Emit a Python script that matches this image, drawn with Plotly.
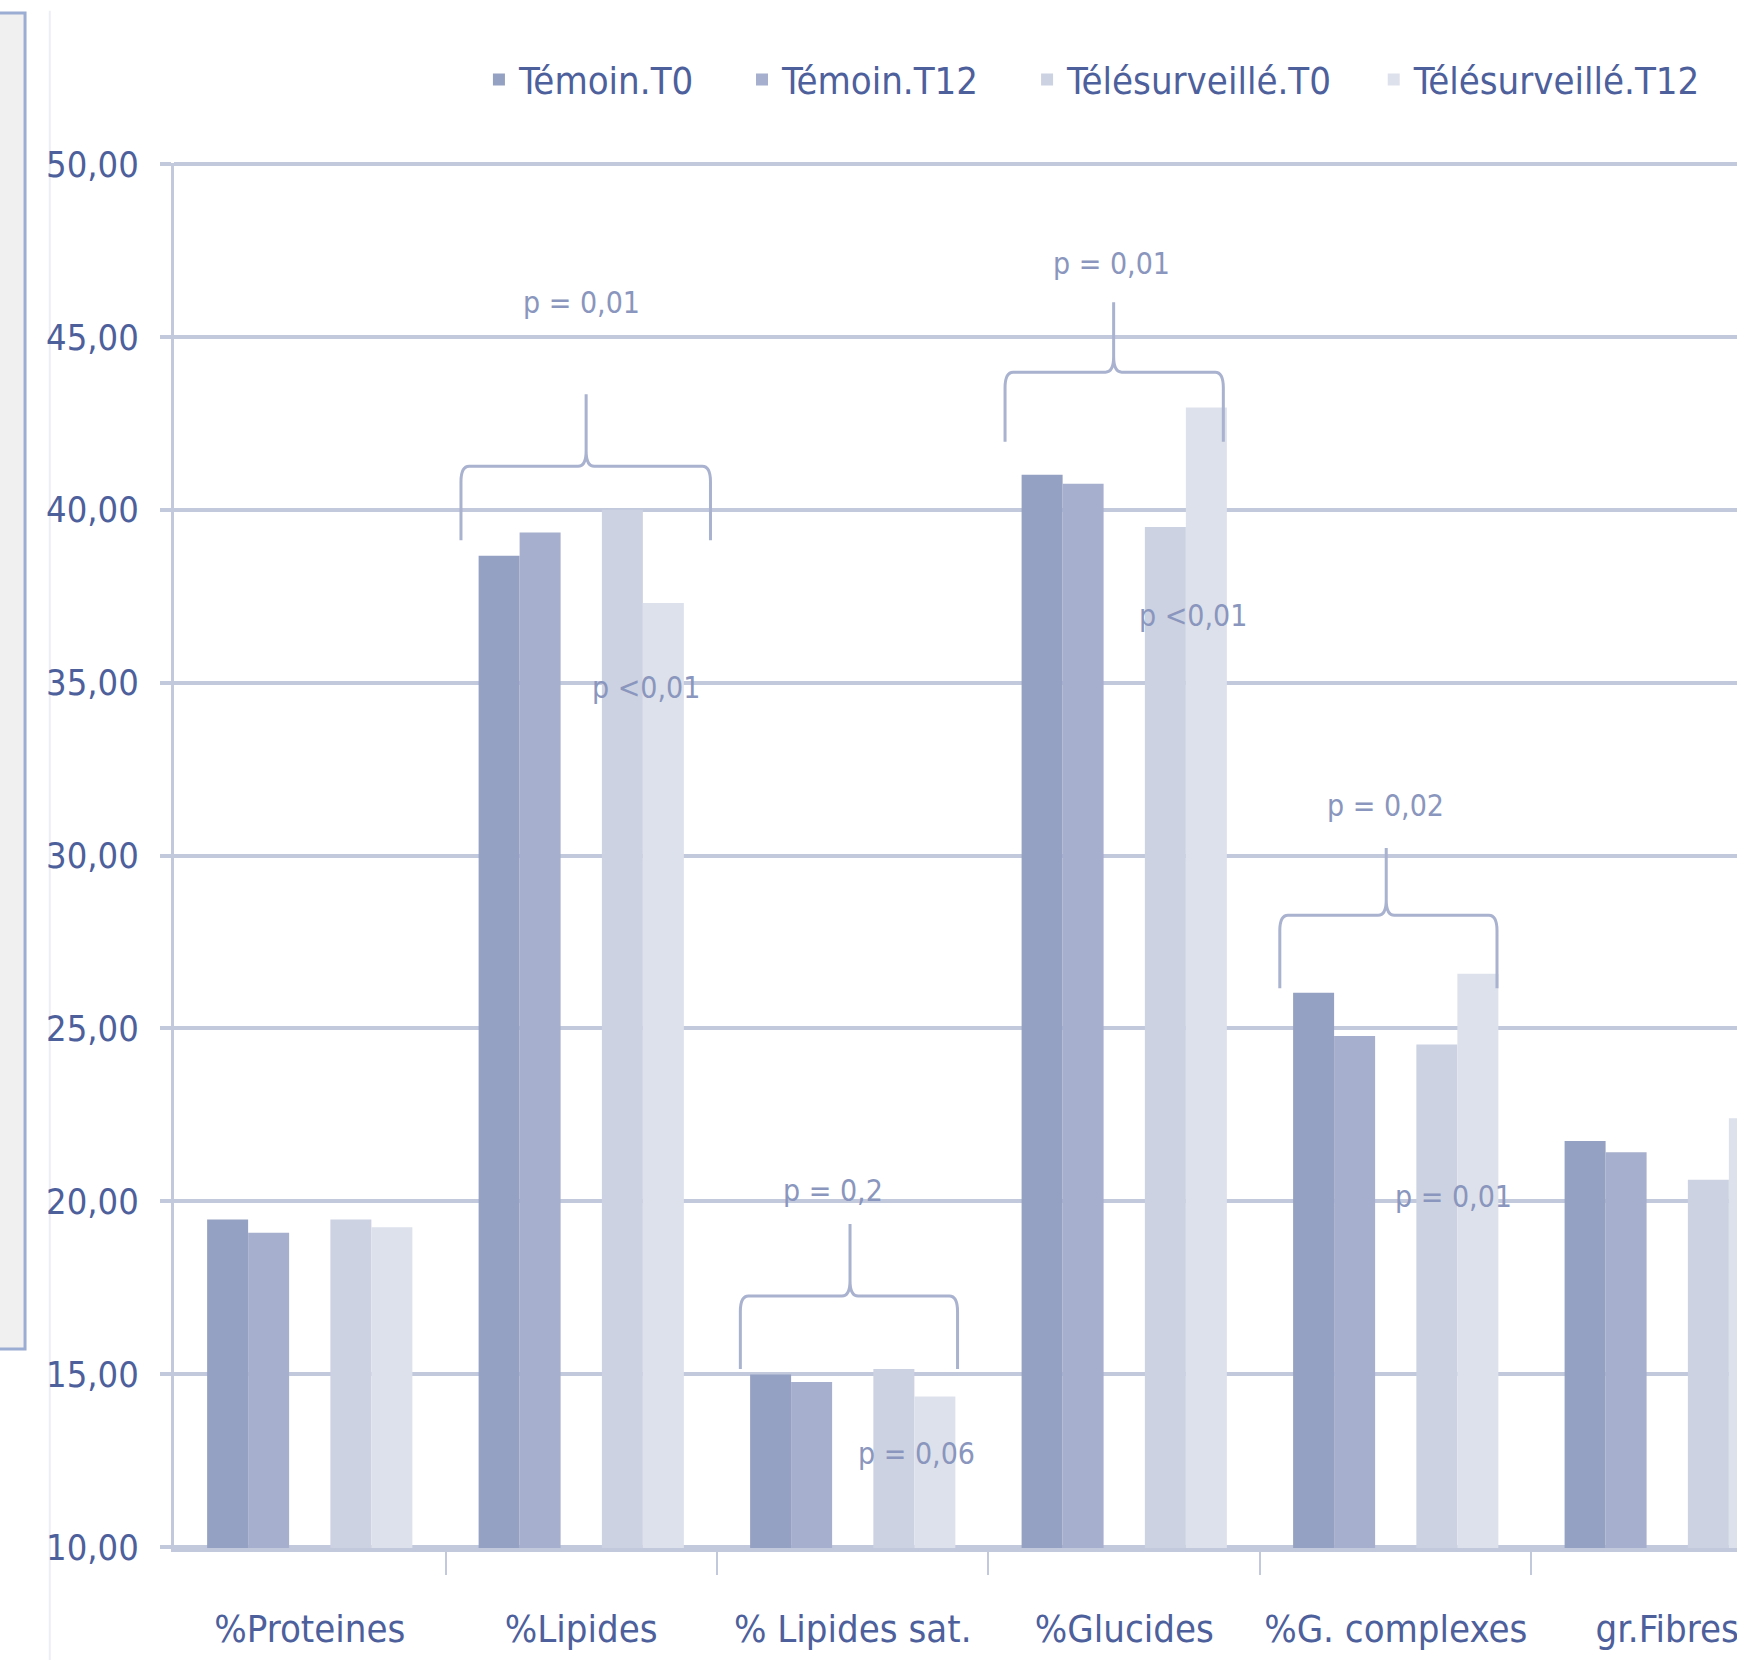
import plotly.graph_objects as go

categories = ["%Proteines", "%Lipides", "% Lipides sat.", "%Glucides", "%G. complexes", "gr.Fibres"]
series_names = ["Témoin.T0", "Témoin.T12", "Télésurveillé.T0", "Télésurveillé.T12"]
temoin_t0 = [19.47, 38.67, 14.99, 41.01, 26.03, 21.74]
temoin_t12 = [19.09, 39.34, 14.77, 40.75, 24.78, 21.42]
tele_t0 = [19.47, 40.00, 15.15, 39.50, 24.53, 20.62]
tele_t12 = [19.25, 37.30, 14.35, 42.96, 26.58, 22.40]
y_ticks = [10, 15, 20, 25, 30, 35, 40, 45, 50]

colors = ["#95a1c2", "#a6afcd", "#ccd2e2", "#dde1eb"]
offsets = [-0.378, -0.227, 0.076, 0.227]
bar_w = 0.151
grid_c = "#c3c9dd"
txt_c = "#4d609c"
p_c = "#8a96bd"
brace_c = "#a9b2cf"
FONT = "Liberation Sans Narrow, DejaVu Sans Condensed, Arial Narrow, sans-serif"

legend_ids = ["legend", "legend2", "legend3", "legend4"]
legend_pos = [(0.1951, "left"), (0.3634, "left"), (0.5458, "left"), (0.980, "right")]

fig = go.Figure()
x_idx = list(range(len(categories)))
for name, vals, col, off, lid in zip(series_names, [temoin_t0, temoin_t12, tele_t0, tele_t12],
                                     colors, offsets, legend_ids):
    fig.add_trace(go.Bar(
        x=x_idx, y=vals, name=name, marker=dict(color=col, line=dict(width=0)),
        offset=off, width=bar_w, legend=lid, showlegend=True,
    ))

# braces: (left, spike, right, y_bottom, y_top, y_tip)
braces = [
    (0.557, 1.018, 1.476, 39.12, 41.26, 43.34),
    (1.586, 1.990, 2.386, 15.15, 17.26, 19.34),
    (2.561, 2.961, 3.365, 41.97, 43.98, 46.00),
    (3.573, 3.965, 4.373, 26.16, 28.27, 30.22),
]
rx, ry = 0.03, 0.45
shapes = []
for xl, xm, xr, yb, yt, ytip in braces:
    p = (f"M {xl},{yb} L {xl},{yt-ry} Q {xl},{yt} {xl+rx},{yt} L {xm-rx},{yt} "
         f"Q {xm},{yt} {xm},{yt+ry} L {xm},{ytip} M {xm},{yt+ry} Q {xm},{yt} {xm+rx},{yt} "
         f"L {xr-rx},{yt} Q {xr},{yt} {xr},{yt-ry} L {xr},{yb}")
    shapes.append(dict(type="path", path=p, xref="x", yref="y",
                       line=dict(color=brace_c, width=3)))

# left decorative panel and faint line
shapes.append(dict(type="rect", xref="paper", yref="paper", x0=-0.13, x1=-0.0953,
                   y0=0.1437, y1=1.1083, fillcolor="#f0f0f0",
                   line=dict(color="#9cadd3", width=3), layer="above"))
shapes.append(dict(type="line", xref="paper", yref="paper", x0=-0.0795, x1=-0.0795,
                   y0=-0.09, y1=1.11, line=dict(color="#eceef5", width=2), layer="below"))

p_labels = [
    (1.002, 46.00, "p = 0,01"),
    (2.953, 47.12, "p = 0,01"),
    (1.929, 20.30, "p = 0,2"),
    (3.961, 31.44, "p = 0,02"),
    (1.239, 34.86, "p <0,01"),
    (3.255, 36.94, "p <0,01"),
    (2.235, 12.69, "p = 0,06"),
    (4.214, 20.14, "p = 0,01"),
]
annotations = [dict(x=x, y=y, text=t, showarrow=False, xref="x", yref="y",
                    font=dict(family=FONT, size=30, color=p_c))
               for x, y, t in p_labels]

legend_layouts = {}
for lid, (lx, anc) in zip(legend_ids, legend_pos):
    legend_layouts[lid] = dict(orientation="h", x=lx, xanchor=anc, y=1.06, yanchor="middle",
                               font=dict(family=FONT, size=38, color=txt_c),
                               bgcolor="rgba(0,0,0,0)")

fig.update_layout(
    width=1737, height=1660,
    margin=dict(l=174, r=0, t=163, b=112, autoexpand=False),
    paper_bgcolor="white", plot_bgcolor="white",
    barmode="overlay",
    separators=",.",
    font=dict(family=FONT, size=38, color=txt_c),
    showlegend=True,
    shapes=shapes,
    annotations=annotations,
    xaxis=dict(
        range=[-0.5, 5.257], tickmode="array", tickvals=x_idx, ticktext=categories,
        ticks="", showgrid=False, zeroline=False,
        showline=True, linecolor=grid_c, linewidth=4,
        ticklabelstandoff=44, ticklabeloverflow="allow", automargin=False,
        tickfont=dict(family=FONT, size=38, color=txt_c),
        minor=dict(tickmode="array", tickvals=[i + 0.5 for i in x_idx], ticks="outside",
                   ticklen=23, tickwidth=2, tickcolor=grid_c, showgrid=False),
    ),
    yaxis=dict(
        range=[9.97, 50.03], tickmode="array", tickvals=y_ticks, tickformat=".2f",
        showgrid=True, gridcolor=grid_c, gridwidth=4, zeroline=False,
        showline=True, linecolor=grid_c, linewidth=3,
        ticks="outside", ticklen=11, tickwidth=4, tickcolor=grid_c,
        ticklabelstandoff=14, automargin=False,
        tickfont=dict(family=FONT, size=36, color=txt_c),
    ),
)
fig.update_layout(**legend_layouts)

fig.write_html("out.html")
